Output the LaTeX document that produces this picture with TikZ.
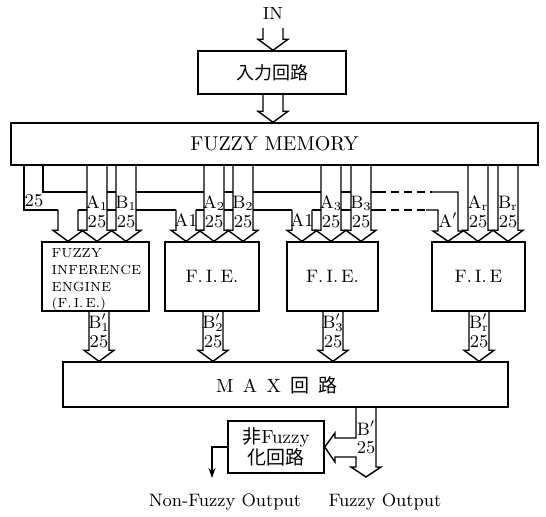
\documentclass[tikz,border=0pt]{standalone}
\usepackage{fontspec}
\newfontfamily\cjk{Noto Sans CJK JP}
\usetikzlibrary{calc, arrows.meta}

\tikzset{
  box/.style={draw, rectangle, inner sep=0pt},
  lbl/.style={font=\fontsize{9}{10}\selectfont, inner sep=0pt},
}
% hollow bus arrow: x, from, to
\newcommand\busdown[3]{%
  \draw ($(#1,0 |- #2)+(-10,0)$) -- ($(#1,0 |- #3)+(-10,-11)$) -- ++(-5,0)
    -- (#1,0 |- #3) -- ++(15,-11) -- ++(-5,0) -- ($(#1,0 |- #2)+(10,0)$);}

\begin{document}
\begin{tikzpicture}[x=0.5pt, y=-0.5pt, line width=0.7pt]
				\useasboundingbox (0,0) rectangle (546,517);
				% Input stage
				\node[lbl, font=\fontsize{8.8}{10}\selectfont] (in) at (273,13) {IN};
				\coordinate (inend) at (273,28);
				\node[box, minimum width=74pt, minimum height=21.5pt, font=\fontsize{9}{10}\selectfont] (inbox) at (272,72.5) {\cjk 入力回路};
				\node[box, minimum width=263.5pt, minimum height=21pt, font=\fontsize{10}{12}\selectfont] (mem) at (274.5,144) {FUZZY MEMORY};
				\busdown{273}{inend}{inbox.north}
				\busdown{273}{inbox.south}{mem.north}
				% Inference engines
				\node[box, minimum width=53.5pt, minimum height=34.5pt] (fie1) at (95.5,276.5) {};
				\node[lbl, anchor=west, align=left, font=\fontsize{6.6}{8.3}\selectfont] (fie1txt) at (51,280) {FUZZY\\INFERENCE\\ENGINE\\(F.\,I.\,E.)};
				\node[box, minimum width=47pt, minimum height=34.5pt, font=\fontsize{9}{10}\selectfont] (fie2) at (212,276.5) {F.\,I.\,E.};
				\node[box, minimum width=45.5pt, minimum height=34.5pt, font=\fontsize{9}{10}\selectfont] (fie3) at (332.5,276.5) {F.\,I.\,E.};
				\node[box, minimum width=46.5pt, minimum height=34.5pt, font=\fontsize{9}{10}\selectfont] (fie4) at (478.5,276.5) {F.\,I.\,E};
				% A_i, B_i buses from memory
				\foreach \xa/\xb/\s/\f in {97/126/1/fie1, 214/243/2/fie2, 331/361/3/fie3, 478/508/r/fie4} {
					\busdown{\xa}{mem.south}{\f.north}
					\busdown{\xb}{mem.south}{\f.north}
					\node[lbl] (a\s) at (\xa,203) {$\mathrm{A}_{\mathrm{\s}}$};
					\node[lbl] (na\s) at (\xa,222) {25};
					\node[lbl] (b\s) at (\xb,203) {$\mathrm{B}_{\mathrm{\s}}$};
					\node[lbl] (nb\s) at (\xb,222) {25};
				}
				% Common A' bus
				\coordinate (bb) at (0,210);
				\draw (24,0 |- mem.south) -- (24,210) -- (58,210);
				\draw (43,0 |- mem.south) -- (43,192) -- (87,192);
				\node[lbl] (n25) at (34,201) {25};
				\foreach \xl/\xr in {107/116, 136/204, 224/233, 253/321, 341/351} {
					\draw (\xl,192) -- (\xr,192);
				}
				\foreach \xl/\xr in {78/87, 107/116, 136/176, 196/204, 224/233, 253/292, 312/321, 341/351} {
					\draw (\xl,210) -- (\xr,210);
				}
				\busdown{68}{bb}{fie1.north}
				\busdown{186}{bb}{fie2.north}
				\busdown{302}{bb}{fie3.north}
				\node[lbl] (ap2) at (186,220) {A1};
				\node[lbl] (ap3) at (302,220) {A1};
				% last engine, dashed run
				\draw (371,192) -- (378,192);
				\draw (371,210) -- (378,210);
				\draw[dash pattern=on 4pt off 2.5pt] (378,192) -- (432,192);
				\draw[dash pattern=on 4pt off 2.5pt] (378,210) -- (426,210);
				\draw (432,192) -- (458,192) -- (458,231) -- (463,231) -- (448,0 |- fie4.north) -- (433,231) -- (438,231) -- (438,210) -- (426,210);
				\node[lbl] (ap4) at (448,220) {$\mathrm{A}'$};
				% MAX stage
				\node[box, minimum width=222.5pt, minimum height=22.5pt] (max) at (285.5,384.5) {};
				\node[lbl, font=\fontsize{9.5}{11}\selectfont] (maxtxt) at (277,385) {M\hspace{.5em}A\hspace{.5em}X\hspace{.5em}{\cjk 回}\hspace{.5em}{\cjk 路}};
				\foreach \x/\s/\f in {99/1/fie1, 213/2/fie2, 333/3/fie3, 479/r/fie4} {
					\busdown{\x}{\f.south}{max.north}
					\node[lbl] (bp\s) at (\x,323) {$\mathrm{B}'_{\mathrm{\s}}$};
					\node[lbl] (nbp\s) at (\x,342) {25};
				}
				% Outputs
				\node[box, minimum width=48pt, minimum height=26pt, align=center, font=\fontsize{9.5}{10.5}\selectfont] (nf) at (276,447) {{\cjk 非}Fuzzy\\{\cjk 化回路}};
				\draw (356,0 |- max.south) -- (356,438) -- (335,438) -- (335,433) -- (nf.east) -- (335,462) -- (335,457) -- (356,457) -- (356,467) -- (351,467) -- (366,477) -- (381,467) -- (376,467) -- (376,0 |- max.south);
				\node[lbl] (bp) at (366,428) {$\mathrm{B}'$};
				\node[lbl] (nbp) at (366,448) {25};
				\coordinate (nfout) at (212,478);
				\draw[-{Stealth[length=5pt, width=3.5pt]}] (nf.west) -| (nfout);
				\node[lbl] (nfo) at (225,502) {Non-Fuzzy Output};
				\node[lbl] (fo) at (385,502) {Fuzzy Output};
\end{tikzpicture}
\end{document}
